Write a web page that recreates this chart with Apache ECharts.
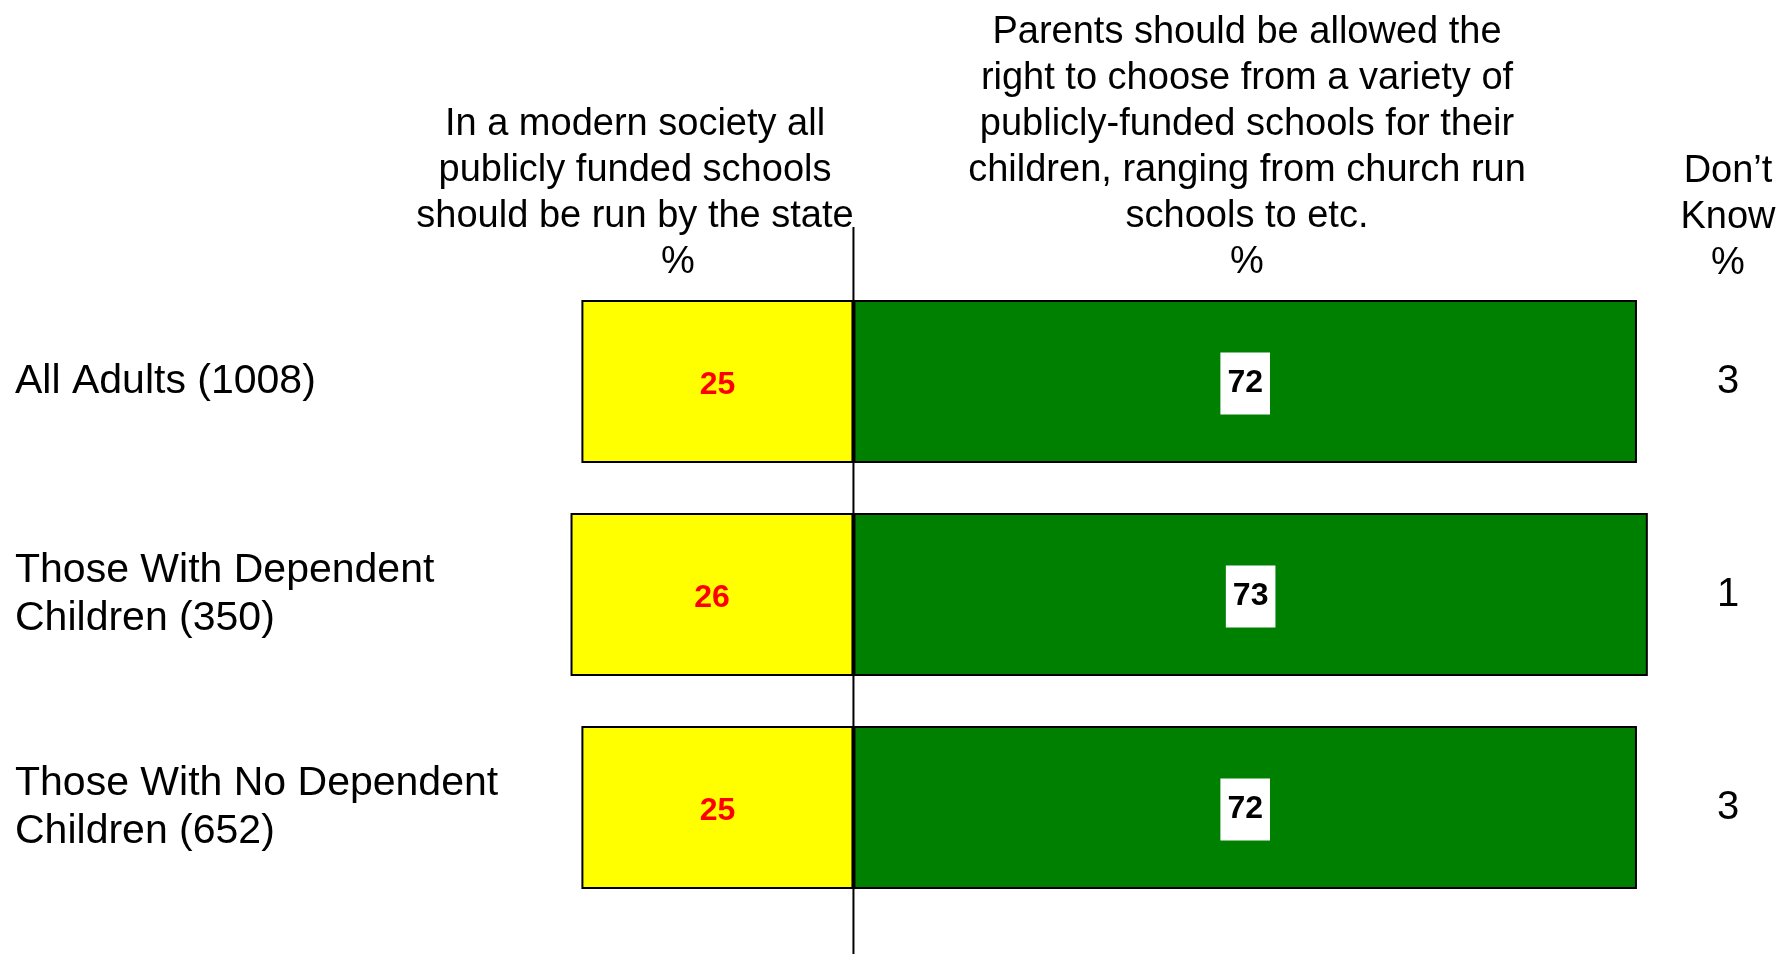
<!DOCTYPE html>
<html>
<head>
<meta charset="utf-8">
<script src="https://cdn.jsdelivr.net/npm/echarts@6/dist/echarts.min.js"></script>
<style>
  html, body { margin: 0; padding: 0; background: #fff; }
  #chartsId { width: 1778px; height: 954px; }
</style>
</head>
<body>
<div id="chartsId"></div>
<script>
const groups = ["All Adults (1008)", "Those With Dependent\nChildren (350)", "Those With No Dependent\nChildren (652)"];
const stateRun = [25, 26, 25];
const parentsChoose = [72, 73, 72];
const dontKnow = [3, 1, 3];
const headerState = "In a modern society all\npublicly funded schools\nshould be run by the state";
const headerChoice = "Parents should be allowed the\nright to choose from a variety of\npublicly-funded schools for their\nchildren, ranging from church run\nschools to etc.\n%";
const headerDk = "Don\u2019t\nKnow\n%";

const FONT = "'Liberation Sans', Arial, sans-serif";

let myChart = echarts.init(document.getElementById("chartsId"));

function headerText(id, text, x, y) {
  return {
    type: "text",
    id: id,
    style: {
      text: text,
      x: x,
      y: y,
      textAlign: "center",
      textVerticalAlign: "top",
      fontFamily: FONT,
      fontSize: 38,
      lineHeight: 46,
      fill: "#000"
    }
  };
}

let option = {
  animation: false,
  backgroundColor: "#fff",
  grid: {
    left: 527,
    width: 1197,
    top: 275,
    height: 639
  },
  xAxis: {
    type: "value",
    min: -30,
    max: 80,
    show: false
  },
  yAxis: [
    {
      type: "category",
      inverse: true,
      data: groups,
      axisLine: { show: false },
      axisTick: { show: false },
      axisLabel: {
        align: "left",
        margin: 512,
        fontFamily: FONT,
        fontSize: 41,
        lineHeight: 48,
        color: "#000"
      }
    },
    {
      type: "category",
      inverse: true,
      position: "right",
      data: dontKnow.map(String),
      axisLine: { show: false },
      axisTick: { show: false },
      axisLabel: {
        align: "center",
        margin: 4,
        fontFamily: FONT,
        fontSize: 40,
        color: "#000"
      }
    }
  ],
  series: [
    {
      name: "State run",
      type: "bar",
      stack: "total",
      barWidth: 163,
      data: stateRun.map(v => -v),
      itemStyle: { color: "#ffff00", borderColor: "#000", borderWidth: 2 },
      label: {
        show: true,
        position: "inside",
        offset: [0, 4],
        formatter: p => Math.abs(p.value),
        fontFamily: FONT,
        fontSize: 32,
        fontWeight: "bold",
        color: "#ff0000"
      }
    },
    {
      name: "Parents choose",
      type: "bar",
      stack: "total",
      barWidth: 163,
      data: parentsChoose,
      itemStyle: { color: "#008000", borderColor: "#000", borderWidth: 2 },
      label: {
        show: true,
        position: "inside",
        offset: [0, 2],
        formatter: "{c}",
        fontFamily: FONT,
        fontSize: 32,
        fontWeight: "bold",
        lineHeight: 32,
        color: "#000",
        backgroundColor: "#fff",
        padding: [16, 7, 14, 7]
      }
    }
  ],
  graphic: [
    headerText("hState", headerState, 635, 102),
    headerText("hStatePct", "%", 678, 240),
    headerText("hChoice", headerChoice, 1247, 10),
    headerText("hDk", headerDk, 1728, 149)
  ]
};

myChart.setOption(option);

// dividing line at zero, running from the headers down to the page bottom
let x0 = myChart.convertToPixel({ xAxisIndex: 0 }, 0);
myChart.setOption({
  graphic: [
    {
      type: "line",
      id: "zeroLine",
      z: 10,
      shape: { x1: x0, y1: 227, x2: x0, y2: 954 },
      style: { stroke: "#000", lineWidth: 2 }
    }
  ]
});
</script>
</body>
</html>
